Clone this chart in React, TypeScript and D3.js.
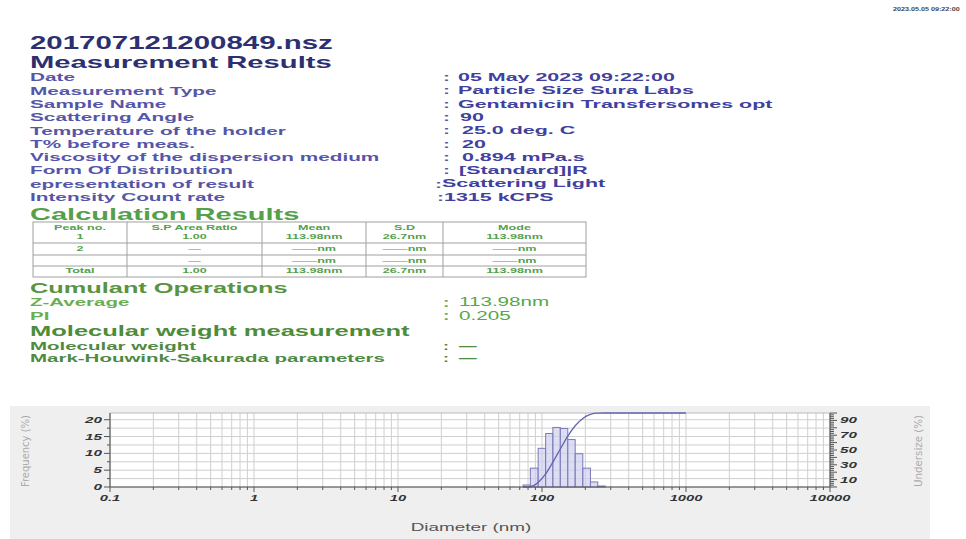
import React from 'react';
import * as d3 from 'd3';

// header block
const fileName = "201707121200849.nsz";
const stamp = "2023.05.05 09:22:00";
const labels = ["Date", "Measurement Type", "Sample Name", "Scattering Angle", "Temperature of the holder",
  "T% before meas.", "Viscosity of the dispersion medium", "Form Of Distribution", "epresentation of result",
  "Intensity Count rate"];
const values = ["05 May 2023 09:22:00", "Particle Size Sura Labs", "Gentamicin Transfersomes opt", "90",
  "25.0 deg. C", "20", "0.894 mPa.s", "[Standard]|R", "Scattering Light", "1315 kCPS"];

// calculation table
const tableHead = ["Peak no.", "S.P Area Ratio", "Mean", "S.D", "Mode"];
const tableRows = [
  ["1", "1.00", "113.98nm", "26.7nm", "113.98nm"],
  ["2", "—", "——nm", "——nm", "——nm"],
  ["", "—", "——nm", "——nm", "——nm"],
  ["Total", "1.00", "113.98nm", "26.7nm", "113.98nm"],
];

const cumLabels = ["Z-Average", "PI"];
const cumValues = ["113.98nm", "0.205"];
const mwLabels = ["Molecular weight", "Mark-Houwink-Sakurada parameters"];
const mwValues = ["—", "—"];

// distribution (diameter in nm)
const binEdges = [74, 83, 94, 106, 119, 134, 151, 170, 192, 217, 244, 275];
const frequency = [0.6, 5.6, 11.5, 15.9, 17.7, 17.4, 14.1, 9.9, 5.6, 1.5, 0.3];
const cumDiam = [74, 83, 94, 106, 119, 134, 151, 170, 192, 217, 244, 275, 1000];
const undersize = [0, 0.6, 6.2, 17.7, 33.6, 51.3, 68.7, 82.8, 92.7, 98.3, 99.8, 100, 100];
const xTickVals = [0.1, 1, 10, 100, 1000, 10000];
const leftTicks = [0, 5, 10, 15, 20];
const rightTicks = [10, 30, 50, 70, 90];

const navy = "#2d3070";
const blue = "#5656a8";
const green = "#55a04a";

function T(p: any) {
  const { x, y, s, size, sx = 1, fill, weight = 'bold', anchor = 'start', italic = false, family = 'Liberation Sans, Arial, sans-serif' } = p;
  return (
    <text transform={`translate(${x},${y}) scale(${sx},1)`} fontSize={size} fontWeight={weight}
      fontStyle={italic ? 'italic' : 'normal'} fill={fill} textAnchor={anchor}
      dominantBaseline="central" fontFamily={family}>{s}</text>
  );
}

export default function App() {
  const x = d3.scaleLog().domain([0.1, 10000]).range([110, 830]);
  const yL = d3.scaleLinear().domain([0, 22]).range([487, 413]);
  const yR = d3.scaleLinear().domain([0, 100]).range([487, 413]);
  const minorX = x.ticks();
  const gridY = d3.range(2.5, 22, 2.5);
  const line = d3.line<number>()
    .x((d, i) => x(cumDiam[i]))
    .y(d => yR(d))
    .curve(d3.curveMonotoneX);

  const rowY = (i: number) => 77.5 + i * 13.3;
  const valueX = [458, 458, 458, 460, 462, 462, 462, 459, 442, 444];
  const colonX = [443, 443, 443, 443, 443, 443, 443, 443, 435, 437];

  const tLeft = 33, tRight = 586;
  const cols = [tLeft, 127, 262, 366, 443, tRight];
  const tRowsY = [237, 249, 260.5, 271];

  return (
    <svg width={966} height={539} style={{ position: 'absolute', left: 0, top: 0, background: '#fff' }}>
      <T x={893} y={9} s={stamp} size={6} sx={1.2} fill="#444" />
      <T x={30} y={42} s={fileName} size={19} sx={1.55} fill={navy} />
      <T x={30} y={62} s="Measurement Results" size={16.5} sx={1.77} fill={navy} />
      {labels.map((l, i) => (
        <g key={l}>
          <T x={30} y={rowY(i)} s={l} size={10.5} sx={1.98} fill={blue} />
          <T x={colonX[i]} y={rowY(i)} s=":" size={11} sx={1.9} fill={blue} />
          <T x={valueX[i]} y={rowY(i)} s={values[i]} size={11} sx={1.95} fill="#40409e" />
        </g>
      ))}

      <T x={30} y={214} s="Calculation Results" size={16.5} sx={1.76} fill={green} />
      <g stroke="#a0a0a0" strokeWidth={1} fill="none">
        <rect x={tLeft} y={222} width={tRight - tLeft} height={55} />
        <line x1={tLeft} x2={tRight} y1={243} y2={243} />
        <line x1={tLeft} x2={tRight} y1={255} y2={255} />
        <line x1={tLeft} x2={tRight} y1={266} y2={266} />
        {cols.slice(1, -1).map(c => <line key={c} x1={c} x2={c} y1={222} y2={277} />)}
      </g>
      {tableHead.map((h, j) => (
        <T key={h} x={(cols[j] + cols[j + 1]) / 2} y={227.5} s={h} size={7} sx={1.8} fill={green} anchor="middle" />
      ))}
      {tableRows.map((r, i) => r.map((c, j) => (
        <T key={i + '-' + j} x={(cols[j] + cols[j + 1]) / 2} y={tRowsY[i]} s={c} size={7} sx={1.8} fill={green} anchor="middle" />
      )))}

      <T x={30} y={288} s="Cumulant Operations" size={15} sx={1.69} fill="#5a9440" />
      {cumLabels.map((l, i) => (
        <g key={l}>
          <T x={30} y={302.5 + i * 13.5} s={l} size={10.5} sx={1.95} fill="#6aae52" />
          <T x={443} y={302.5 + i * 13.5} s=":" size={12} sx={1.6} fill="#6aae52" />
          <T x={459} y={302.5 + i * 13.5} s={cumValues[i]} size={12} sx={1.72} fill="#54a848" weight="normal" />
        </g>
      ))}
      <T x={30} y={331} s="Molecular weight measurement" size={15} sx={1.7} fill="#4d8c3a" />
      {mwLabels.map((l, i) => (
        <g key={l}>
          <T x={30} y={346 + i * 12.5} s={l} size={10.5} sx={1.95} fill="#4f8a3e" />
          <T x={443} y={346 + i * 12.5} s=":" size={11} sx={1.6} fill="#4f8a3e" />
          <T x={459} y={346 + i * 12.5} s={mwValues[i]} size={11} sx={1.6} fill="#4f8a3e" />
        </g>
      ))}

      {/* chart panel */}
      <rect x={10} y={406} width={920} height={133} fill="#efefef" />
      <rect x={110} y={413} width={720} height={74} fill="#fff" />
      <g stroke="#cfcfcf" strokeWidth={1}>
        {minorX.map((v, i) => <line key={'gx' + i} x1={x(v)} x2={x(v)} y1={413} y2={487} />)}
        {gridY.map(v => <line key={'gy' + v} x1={110} x2={830} y1={yL(v)} y2={yL(v)} />)}
      </g>
      <rect x={110} y={413} width={720} height={74} fill="none" stroke="#bbb" />

      {frequency.map((f, i) => (
        <rect key={'b' + i} x={x(binEdges[i])} y={yL(f)} width={x(binEdges[i + 1]) - x(binEdges[i])}
          height={yL(0) - yL(f)} fill="#cfcff0" fillOpacity={0.7} stroke="#7a7ab8" strokeWidth={1} />
      ))}
      <path d={line(undersize) || ''} fill="none" stroke="#6464b0" strokeWidth={1.3} />

      {/* axes */}
      <g stroke="#555" strokeWidth={1}>
        <line x1={110} x2={830} y1={487} y2={487} />
        <line x1={110} x2={110} y1={413} y2={487} />
        <line x1={830} x2={830} y1={413} y2={487} />
        {minorX.map((v, i) => <line key={'tx' + i} x1={x(v)} x2={x(v)} y1={487} y2={xTickVals.includes(v) ? 492 : 490} />)}
        {d3.range(0, 22.5, 2.5).map(v => <line key={'ty' + v} x1={v % 5 === 0 ? 104 : 107} x2={110} y1={yL(v)} y2={yL(v)} />)}
        {d3.range(0, 101, 2.5).map(v => <line key={'tr' + v} x1={830} x2={v % 10 === 0 ? 837 : 834} y1={yR(v)} y2={yR(v)} />)}
      </g>
      {xTickVals.map(v => (
        <T key={'xl' + v} x={x(v)} y={498} s={String(v)} size={9.5} sx={1.55} fill="#333" anchor="middle" italic />
      ))}
      {leftTicks.map(v => (
        <T key={'yl' + v} x={102} y={yL(v)} s={String(v)} size={9.5} sx={1.6} fill="#333" anchor="end" italic />
      ))}
      {rightTicks.map(v => (
        <T key={'yr' + v} x={840} y={yR(v)} s={String(v)} size={9.5} sx={1.6} fill="#333" italic />
      ))}
      <text transform="translate(25,451) rotate(-90)" textAnchor="middle" dominantBaseline="central"
        fontSize={10} fill="#aaa" fontFamily="DejaVu Sans Condensed, sans-serif" textLength={72}
        lengthAdjust="spacingAndGlyphs">Frequency (%)</text>
      <text transform="translate(918,451) rotate(-90)" textAnchor="middle" dominantBaseline="central"
        fontSize={10} fill="#aaa" fontFamily="DejaVu Sans Condensed, sans-serif" textLength={72}
        lengthAdjust="spacingAndGlyphs">Undersize (%)</text>
      <T x={471} y={527} s="Diameter (nm)" size={10.5} sx={1.8} fill="#555" weight="normal" anchor="middle" />
    </svg>
  );
}
